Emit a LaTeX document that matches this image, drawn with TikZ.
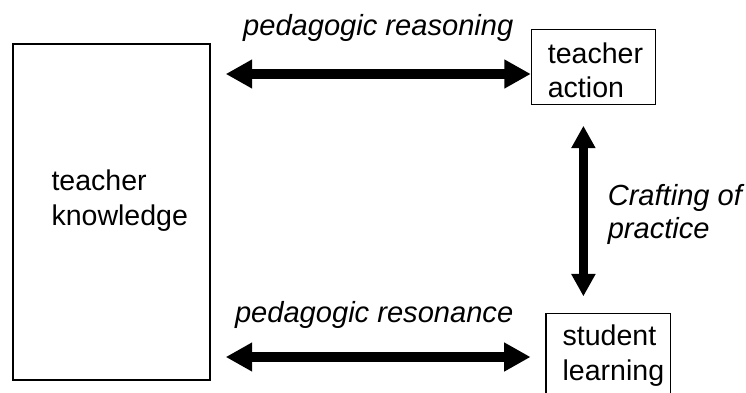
\documentclass[tikz,border=0pt]{standalone}
\usepackage{fontspec}
\setmainfont{Liberation Sans}
\usetikzlibrary{arrows.meta,calc,positioning}

\begin{document}
\begin{tikzpicture}[
  every node/.style={font=\fontsize{20.3}{24.5}\selectfont},
  box/.style={draw, line width=0.9pt, inner sep=0pt},
  txt/.style={align=left, inner sep=0pt, anchor=west},
  lbl/.style={font=\fontsize{20.7}{23.7}\selectfont\itshape, align=left, inner sep=0pt},
  arr/.style={{Triangle[length=0.66cm,width=0.68cm]}-{Triangle[length=0.66cm,width=0.68cm]},
              line width=6.6pt},
  varr/.style={{Triangle[length=0.56cm,width=0.57cm]}-{Triangle[length=0.56cm,width=0.57cm]},
               line width=6.2pt},
]
\useasboundingbox (0,0) rectangle (18.65,9.8);

%% ── Boxes ───────────────────────────────────────────────────────────────
\node[box, minimum width=4.925cm, minimum height=8.4cm]  (TK) at (2.79,  4.5)  {};
\node[box, minimum width=3.11cm,  minimum height=1.875cm] (TA) at (14.84, 8.13) {};
\node[box, minimum width=3.12cm,  minimum height=2.05cm]  (SL) at (15.21, 0.94) {};

\node[txt] (TKtxt) at ([xshift=0.97cm,  yshift=0.29cm]TK.west)  {teacher\\knowledge};
\node[txt] (TAtxt) at ([xshift=0.42cm,  yshift=-0.09cm]TA.west) {teacher\\action};
\node[txt] (SLtxt) at ([xshift=0.425cm, yshift=-0.03cm]SL.west) {student\\learning};

%% ── Arrows ──────────────────────────────────────────────────────────────
\draw[arr] ($(TK.east |- TA.west)+(0.375,-0.18)$) -- ($(TA.west)+(0,-0.18)$)
    node[midway, above=0.7cm, lbl] (PR) {pedagogic reasoning};
\draw[arr] ($(TK.east |- SL.west)+(0.375,-0.065)$) -- ($(SL.west)+(-0.37,-0.065)$)
    node[midway, above=0.6cm, xshift=-0.1cm, lbl] (PS) {pedagogic resonance};
\draw[varr] ($(TA.south)+(-0.255,-0.52)$) -- ($(TA.south |- SL.north)+(-0.255,0.41)$)
    node[midway, right=0.5cm, yshift=-0.09cm, lbl] (CP) {Crafting of\\practice};
\end{tikzpicture}
\end{document}
